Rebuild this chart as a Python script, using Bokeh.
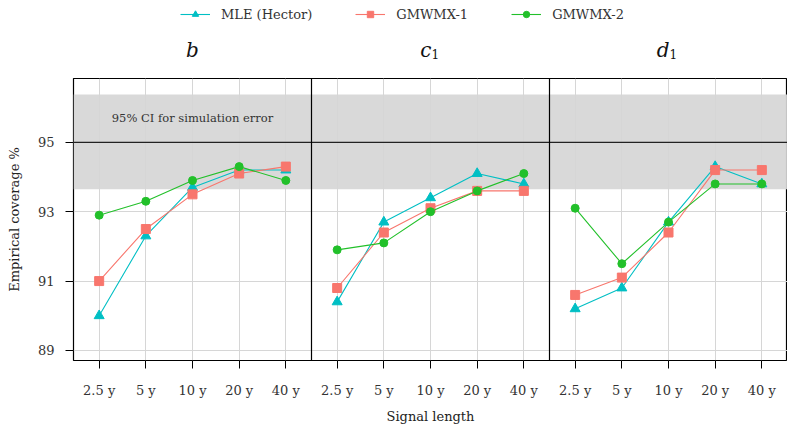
from bokeh.plotting import figure
from bokeh.layouts import column
from bokeh.models import (Legend, LegendItem, Span, BoxAnnotation, Label,
                          FixedTicker)
from bokeh.embed import file_html
from bokeh.resources import INLINE

# ---- data ----
lengths = ["2.5 y", "5 y", "10 y", "20 y", "40 y"]
panels = ["b", "c", "d"]
panel_subs = ["", "1", "1"]

mle_b = [90.0, 92.3, 93.7, 94.2, 94.2]
gm1_b = [91.0, 92.5, 93.5, 94.1, 94.3]
gm2_b = [92.9, 93.3, 93.9, 94.3, 93.9]

mle_c1 = [90.4, 92.7, 93.4, 94.1, 93.8]
gm1_c1 = [90.8, 92.4, 93.1, 93.6, 93.6]
gm2_c1 = [91.9, 92.1, 93.0, 93.6, 94.1]

mle_d1 = [90.2, 90.8, 92.7, 94.3, 93.8]
gm1_d1 = [90.6, 91.1, 92.4, 94.2, 94.2]
gm2_d1 = [93.1, 91.5, 92.7, 93.8, 93.8]

nominal = 95.0
ci_low, ci_high = 93.65, 96.38
y_ticks = [89, 91, 93, 95]

series_names = ["MLE (Hector)", "GMWMX-1", "GMWMX-2"]
series_colors = ["#00BFC4", "#F8766D", "#22C02A"]
series_markers = ["triangle", "square", "circle"]
series_sizes = [10, 9, 8]
series_data = [
    [mle_b, mle_c1, mle_d1],
    [gm1_b, gm1_c1, gm1_d1],
    [gm2_b, gm2_c1, gm2_d1],
]

# ---- layout helpers ----
n = len(lengths)
pad = 0.55
pw = n + 0.1  # panel width in x units


def xpos(k, i):
    return k * pw + (i + 1)


x_lo = 1 - pad
x_hi = 3 * pw + 1 - pad

FONT = "DejaVu Serif"
W = 787
LEFT = 73

# ---- top strip: legend + panel titles ----
top = figure(width=W, height=78, output_backend="svg", toolbar_location=None,
             x_range=(x_lo, x_hi), y_range=(0, 78),
             min_border_left=LEFT, min_border_right=0, min_border_top=0,
             min_border_bottom=0, x_axis_type=None, y_axis_type=None)
top.outline_line_color = None
top.xgrid.visible = False
top.ygrid.visible = False

# legend renderers: the first panel's data, falling outside this strip's y range
items = []
for s in range(3):
    xs = [xpos(0, i) for i in range(n)]
    ys = series_data[s][0]
    l = top.line(xs, ys, line_color=series_colors[s], line_width=1.1)
    m = top.scatter(xs, ys, marker=series_markers[s], size=series_sizes[s],
                    fill_color=series_colors[s], line_color=series_colors[s])
    items.append(LegendItem(label=series_names[s], renderers=[l, m]))

legend = Legend(items=items, orientation="horizontal", location=(107, 56),
                glyph_width=30, glyph_height=16, label_standoff=11, spacing=43,
                label_text_font=FONT, label_text_font_size="13px",
                label_text_color="#333333", background_fill_alpha=0,
                border_line_color=None, padding=0, margin=0)
top.add_layout(legend, "center")

for k in range(3):
    xc = (k * pw + 1 - pad + (k + 1) * pw + 1 - pad) / 2
    has_sub = bool(panel_subs[k])
    top.add_layout(Label(x=xc, y=29, y_units="screen", text=panels[k],
                         text_font=FONT, text_font_size="20px",
                         text_font_style="italic", text_color="#111111",
                         text_align="right" if has_sub else "center",
                         text_baseline="alphabetic",
                         x_offset=1 if has_sub else 0))
    if has_sub:
        top.add_layout(Label(x=xc, y=25, y_units="screen", text=panel_subs[k],
                             text_font=FONT, text_font_size="12px",
                             text_color="#111111", text_align="left",
                             text_baseline="alphabetic", x_offset=1))

# ---- main panel area ----
p = figure(width=W, height=349, output_backend="svg", toolbar_location=None,
           x_range=(x_lo, x_hi), y_range=(88.71, 96.84),
           min_border_left=LEFT, min_border_right=0, min_border_top=0,
           min_border_bottom=67)
p.outline_line_color = "black"
p.outline_line_width = 1.2
p.background_fill_color = "white"

p.xgrid.grid_line_color = "#D6D6D6"
p.ygrid.grid_line_color = "#D6D6D6"
p.xgrid.grid_line_width = 1
p.ygrid.grid_line_width = 1

band = BoxAnnotation(bottom=ci_low, top=ci_high, fill_color="#D6D6D6",
                     fill_alpha=0.92, line_color=None, level="underlay")
p.add_layout(band)
p.add_layout(Span(location=nominal, dimension="width", line_color="#222222",
                  line_width=1.2))

for k in range(1, 3):
    p.add_layout(Span(location=k * pw + 1 - pad, dimension="height",
                      line_color="black", line_width=1.2))

for s in range(3):
    for k in range(3):
        xs = [xpos(k, i) for i in range(n)]
        ys = series_data[s][k]
        p.line(xs, ys, line_color=series_colors[s], line_width=1.1)
        p.scatter(xs, ys, marker=series_markers[s], size=series_sizes[s],
                  fill_color=series_colors[s], line_color=series_colors[s])

xt = [xpos(k, i) for k in range(3) for i in range(n)]
p.xaxis.ticker = FixedTicker(ticks=xt)
p.xaxis.major_label_overrides = {x: lengths[i % n] for i, x in enumerate(xt)}
p.xaxis.axis_label = "Signal length"
p.yaxis.ticker = FixedTicker(ticks=y_ticks)
p.yaxis.axis_label = "Empirical coverage %"
for ax in (p.xaxis, p.yaxis):
    ax.axis_line_color = None
    ax.major_tick_line_color = "black"
    ax.major_tick_out = 8
    ax.major_tick_in = 0
    ax.minor_tick_line_color = None
    ax.major_label_text_font = FONT
    ax.major_label_text_font_size = "13px"
    ax.major_label_text_color = "#333333"
    ax.axis_label_text_font = FONT
    ax.axis_label_text_font_size = "13px"
    ax.axis_label_text_font_style = "normal"
    ax.axis_label_text_color = "#222222"
p.xaxis.major_label_standoff = 14
p.yaxis.major_label_standoff = 11
p.xaxis.axis_label_standoff = 8
p.yaxis.axis_label_standoff = 13

p.add_layout(Label(x=xpos(0, 2), y=(nominal + ci_high) / 2,
                   text="95% CI for simulation error",
                   text_font=FONT, text_font_size="11.5px", text_color="#333333",
                   text_align="center", text_baseline="middle"))

layout = column(top, p, spacing=0)
open("out.html", "w").write(file_html(layout, INLINE))
